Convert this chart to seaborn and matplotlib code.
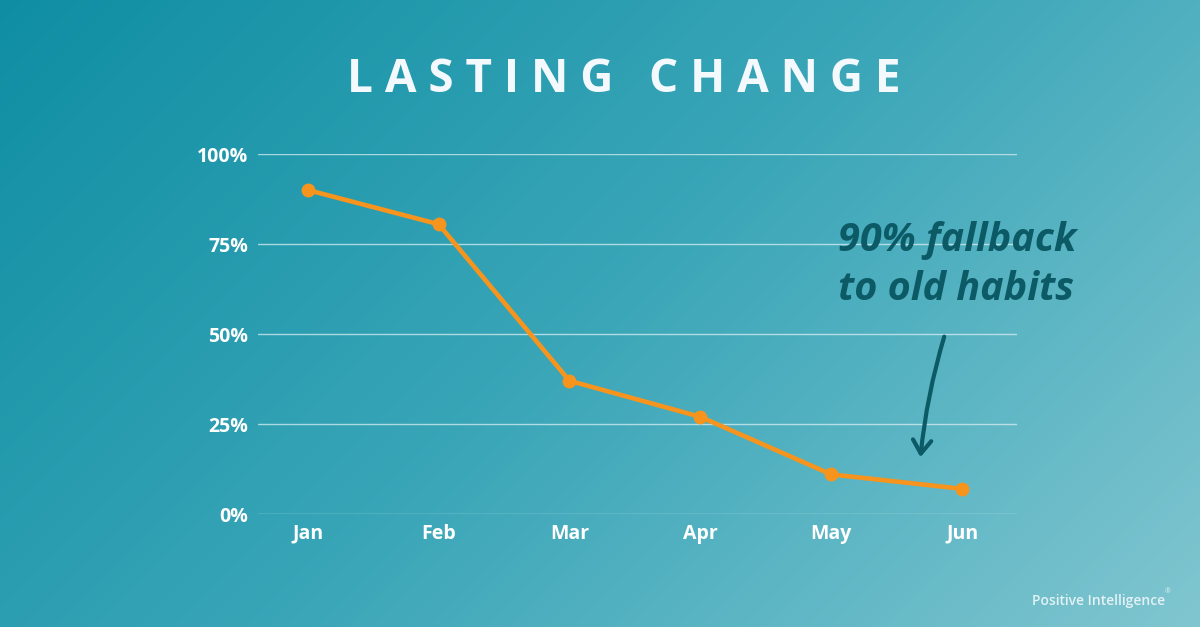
import numpy as np
import pandas as pd
import matplotlib
matplotlib.use("Agg")
import matplotlib.pyplot as plt
import seaborn as sns
from matplotlib.colors import LinearSegmentedColormap

months = ["Jan", "Feb", "Mar", "Apr", "May", "Jun"]
values = [90, 80.5, 37, 27, 11, 7]
yticks = [0, 25, 50, 75, 100]
ytick_labels = ["0%", "25%", "50%", "75%", "100%"]
title = "LASTING CHANGE"
note = "90% fallback\nto old habits"
brand = "Positive Intelligence"

df = pd.DataFrame({"month": months, "value": values})

sns.set_theme(style="white")
plt.rcParams["font.family"] = ["Open Sans", "DejaVu Sans"]

W, H = 1200, 627
fig = plt.figure(figsize=(W / 100, H / 100), dpi=100)

# background gradient
bg = fig.add_axes([0, 0, 1, 1])
xx, yy = np.meshgrid(np.arange(W), np.arange(H))
t = (xx + yy) / (W + H)
cmap = LinearSegmentedColormap.from_list("bg", ["#0f8ea3", "#3aa6b8", "#80c6d0"])
bg.imshow(t, cmap=cmap, aspect="auto", extent=[0, 1, 0, 1], origin="upper")
bg.set_axis_off()

ax = fig.add_axes([258 / W, 1 - 514 / H, (1017 - 258) / W, (514 - 154) / H])
ax.patch.set_alpha(0)
sns.lineplot(data=df, x="month", y="value", ax=ax, color="#f7941d", linewidth=3.3,
             marker="o", markersize=10, markeredgewidth=0, sort=False, clip_on=False)
ax.set_xlim(-0.38, 5.42)
ax.set_ylim(0, 100)
ax.set_yticks(yticks)
ax.set_yticklabels(ytick_labels)
for y in yticks:
    ax.axhline(y, color="#d8eef2", linewidth=1, alpha=0.75, zorder=0)
for s in ax.spines.values():
    s.set_visible(False)
ax.tick_params(axis="both", length=0, labelcolor="white", labelsize=14)
ax.tick_params(axis="y", pad=7)
ax.tick_params(axis="x", pad=7)
for lab in ax.get_xticklabels() + ax.get_yticklabels():
    lab.set_fontweight("bold")
ax.set_xlabel("")
ax.set_ylabel("")

fig.text(624 / W, 1 - 79 / H, " ".join(list(title)),
         ha="center", va="center", color="#f3f9fc", fontsize=33, fontweight="bold")

fig.text(838 / W, 1 - 265 / H, note, ha="left", va="center", color="#0c5a66",
         fontsize=28.5, fontweight="bold", style="italic", linespacing=1.3,
         family=["Open Sans", "DejaVu Sans"])

ax.annotate("", xy=(4.68, 15), xytext=(4.87, 50),
            arrowprops=dict(arrowstyle="->,head_length=0.8,head_width=0.55",
                            color="#0c5a66", lw=3, connectionstyle="arc3,rad=0.05"),
            annotation_clip=False)

fig.text(1165 / W, 1 - 601 / H, brand, ha="right", va="center", color="#e2f2f5",
         fontsize=10, fontweight=600)
fig.text(1168 / W, 1 - 592 / H, "®", ha="center", va="center", color="#e2f2f5",
         fontsize=5)

fig.savefig("out.png", dpi=100)
